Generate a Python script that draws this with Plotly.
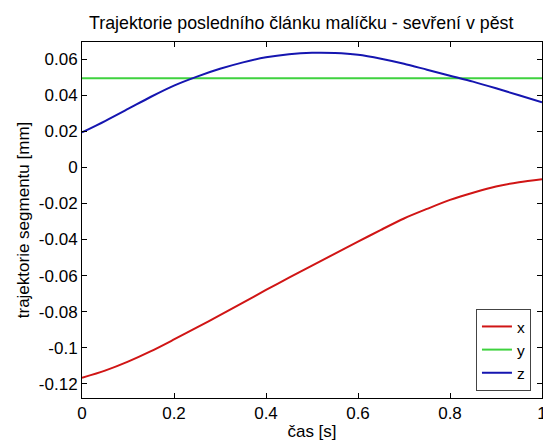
import plotly.graph_objects as go

# time samples [s]
t = [0.0, 0.05, 0.1, 0.15, 0.2, 0.25, 0.3, 0.35, 0.4, 0.45, 0.5,
     0.55, 0.6, 0.65, 0.7, 0.75, 0.8, 0.85, 0.9, 0.95, 1.0]
# trajectories
x_vals = [-0.1168, -0.1128, -0.1078, -0.1020, -0.0955, -0.0888, -0.0820, -0.0750,
          -0.0680, -0.0612, -0.0545, -0.0478, -0.0412, -0.0346, -0.0283, -0.0230,
          -0.0180, -0.0140, -0.0105, -0.0082, -0.0065]
y_vals = [0.0495] * len(t)
z_vals = [0.0195, 0.0258, 0.0325, 0.0393, 0.0455, 0.0505, 0.0548, 0.0584, 0.0612,
          0.0629, 0.0637, 0.0636, 0.0626, 0.0604, 0.0576, 0.0543, 0.0510, 0.0477,
          0.0440, 0.0401, 0.0362]

series = [("x", x_vals, "#d01515"), ("y", y_vals, "#3fd23f"), ("z", z_vals, "#1515b0")]

FONT = "Liberation Sans, Arial, Helvetica, sans-serif"

fig = go.Figure()
for name, vals, col in series:
    fig.add_trace(go.Scatter(x=t, y=vals, mode="lines", name=name,
                             line=dict(color=col, width=2, shape="spline", smoothing=0.8)))

axis_common = dict(showline=True, linecolor="black", linewidth=1, mirror="ticks",
                   ticks="inside", ticklen=5, tickcolor="black", showgrid=False,
                   zeroline=False, ticklabeloverflow="allow",
                   tickfont=dict(family=FONT, size=17, color="black"))

# page body has an 8px margin, so the figure is offset by 8px
fig.update_layout(
    width=543, height=435,
    margin=dict(l=74, r=4, t=34, b=45),
    paper_bgcolor="white", plot_bgcolor="white",
    font=dict(family=FONT, size=17, color="black"),
    title=dict(text="Trajektorie posledního článku malíčku - sevření v pěst",
               x=0.54, xanchor="center", y=0.966, yanchor="middle",
               font=dict(family=FONT, size=17.8, color="black")),
    xaxis=dict(range=[0, 1], tickvals=[0, 0.2, 0.4, 0.6, 0.8, 1],
               ticktext=["0", "0.2", "0.4", "0.6", "0.8", "1"],
               title=dict(text="čas [s]", standoff=2, font=dict(family=FONT, size=17)),
               **axis_common),
    yaxis=dict(range=[-0.128, 0.0697],
               tickvals=[-0.12, -0.1, -0.08, -0.06, -0.04, -0.02, 0, 0.02, 0.04, 0.06],
               ticktext=["-0.12", "-0.1", "-0.08", "-0.06", "-0.04", "-0.02", "0",
                         "0.02", "0.04", "0.06"],
               title=dict(text="trajektorie segmentu [mm]", standoff=4,
                          font=dict(family=FONT, size=17)),
               **axis_common),
    legend=dict(x=0.976, xanchor="right", y=0.02, yanchor="bottom",
                bgcolor="white", bordercolor="#444", borderwidth=1,
                font=dict(family=FONT, size=15.5), tracegroupgap=0),
    showlegend=True,
)

fig.write_html("out.html")
